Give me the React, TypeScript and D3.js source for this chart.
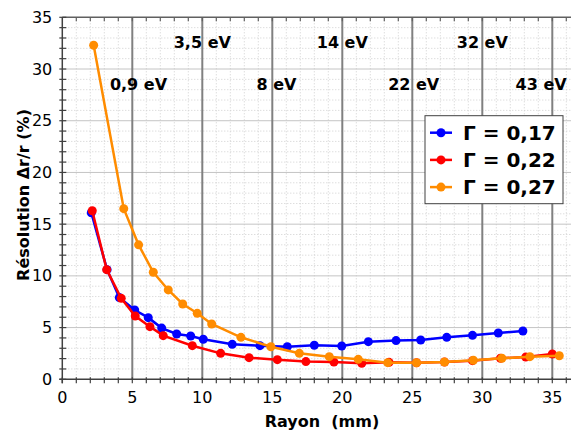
import React from "react";
import * as d3 from "d3";

const blueX = [2.07, 3.2, 4.07, 5.17, 6.14, 7.1, 8.17, 9.17, 10.07, 12.14, 14.12, 16.07, 18.0, 19.96, 21.86, 23.84, 25.6, 27.46, 29.3, 31.14, 32.9];
const blueY = [16.1, 10.6, 7.9, 6.7, 5.96, 4.95, 4.38, 4.19, 3.87, 3.38, 3.25, 3.15, 3.29, 3.22, 3.64, 3.74, 3.8, 4.06, 4.25, 4.48, 4.67];
const redX = [2.14, 3.17, 4.21, 5.21, 6.26, 7.21, 9.29, 11.31, 13.34, 15.36, 17.4, 19.4, 21.39, 23.34, 25.3, 27.3, 29.3, 31.3, 33.1, 35.0];
const redY = [16.3, 10.6, 7.83, 6.12, 5.09, 4.22, 3.25, 2.51, 2.09, 1.9, 1.71, 1.67, 1.55, 1.64, 1.6, 1.67, 1.8, 2.03, 2.15, 2.45];
const orangeX = [2.24, 4.39, 5.45, 6.5, 7.57, 8.6, 9.64, 10.67, 12.76, 14.9, 16.93, 19.07, 21.14, 23.24, 25.3, 27.3, 29.36, 31.4, 33.4, 35.5];
const orangeY = [32.3, 16.5, 13.0, 10.35, 8.64, 7.28, 6.38, 5.35, 4.06, 3.15, 2.51, 2.19, 1.93, 1.61, 1.6, 1.67, 1.84, 2.03, 2.19, 2.28];

const seriesNames = ["Γ = 0,17", "Γ = 0,22", "Γ = 0,27"];
const seriesColors = ["#0000ff", "#ff0000", "#ff8c00"];

const energyLabels = ["3,5 eV", "14 eV", "32 eV", "0,9 eV", "8 eV", "22 eV", "43 eV"];
const energyX = [10, 20, 30, 5.44, 15.3, 25.1, 34.2];
const energyRow = [0, 0, 0, 1, 1, 1, 1];

const xTicks = [0, 5, 10, 15, 20, 25, 30, 35];
const yTicks = [0, 5, 10, 15, 20, 25, 30, 35];

const W = 571;
const H = 432;
const FONT = "'DejaVu Sans', Verdana, sans-serif";

export default function App() {
  const x = d3.scaleLinear().domain([0, 36.5]).range([62.3, 62.3 + 36.5 * 14]);
  const y = d3.scaleLinear().domain([0, 35]).range([379.3, 17.3]);
  const left = x(0);
  const right = W;
  const top = y(35);
  const bottom = y(0);

  const minorX = d3.range(1, 37);
  const minorY = d3.range(1, 35);

  const series = [
    blueX.map((v, i) => [v, blueY[i]] as [number, number]),
    redX.map((v, i) => [v, redY[i]] as [number, number]),
    orangeX.map((v, i) => [v, orangeY[i]] as [number, number]),
  ];
  const line = d3
    .line<[number, number]>()
    .x((d) => x(d[0]))
    .y((d) => y(d[1]));

  const rowY = [48, 90];

  return (
    <div style={{ position: "fixed", left: 0, top: 0 }}>
      <svg width={W} height={H} style={{ display: "block", background: "#fff" }}>
        <defs>
          <clipPath id="plot">
            <rect x={left} y={top} width={right - left} height={bottom - top} />
          </clipPath>
        </defs>
        {/* minor grid */}
        {minorX.filter((v) => v % 5 !== 0).map((v) => (
          <line key={"mx" + v} x1={x(v)} x2={x(v)} y1={top} y2={bottom} stroke="#cfcfcf" strokeWidth={1} strokeDasharray="1,2" />
        ))}
        {minorY.filter((v) => v % 5 !== 0).map((v) => (
          <line key={"my" + v} x1={left} x2={right} y1={y(v)} y2={y(v)} stroke="#cfcfcf" strokeWidth={1} strokeDasharray="1,2" />
        ))}
        {/* major horizontal grid */}
        {yTicks.filter((v) => v > 0 && v < 35).map((v) => (
          <line key={"gy" + v} x1={left} x2={right} y1={y(v)} y2={y(v)} stroke="#c4c4c4" strokeWidth={1} />
        ))}
        {/* major vertical lines */}
        {xTicks.filter((v) => v > 0).map((v) => (
          <line key={"gx" + v} x1={x(v)} x2={x(v)} y1={top} y2={bottom} stroke="#808080" strokeWidth={2} />
        ))}
        {/* top axis */}
        <line x1={left} x2={right} y1={top} y2={top} stroke="#606060" strokeWidth={1.5} />
        {minorX.map((v) => (
          <line key={"tt" + v} x1={x(v)} x2={x(v)} y1={top} y2={top + 4} stroke="#606060" strokeWidth={1.2} />
        ))}
        {/* energy labels */}
        {energyLabels.map((t, i) => (
          <text key={"e" + i} x={x(energyX[i])} y={rowY[energyRow[i]]} textAnchor="middle" fontFamily={FONT} fontWeight="bold" fontSize={16} fill="#000">
            {t}
          </text>
        ))}
        {/* series */}
        <g clipPath="url(#plot)">
          {series.map((s, si) => (
            <g key={"s" + si}>
              <path d={line(s) || ""} fill="none" stroke={seriesColors[si]} strokeWidth={2.5} />
              {s.map((d, i) => (
                <circle key={i} cx={x(d[0])} cy={y(d[1])} r={4.5} fill={seriesColors[si]} />
              ))}
            </g>
          ))}
        </g>
        {/* axes */}
        <line x1={left} x2={left} y1={top} y2={bottom + 4} stroke="#404040" strokeWidth={1.5} />
        <line x1={left - 3} x2={right} y1={bottom} y2={bottom} stroke="#404040" strokeWidth={1.5} />
        {d3.range(0, 36).map((v) => (
          <line key={"yt" + v} x1={left - 3} x2={left + 4} y1={y(v)} y2={y(v)} stroke="#404040" strokeWidth={1.2} />
        ))}
        {d3.range(0, 37).map((v) => (
          <line key={"xt" + v} x1={x(v)} x2={x(v)} y1={bottom - 2} y2={bottom + 4} stroke="#404040" strokeWidth={1.2} />
        ))}
        {yTicks.map((v) => (
          <text key={"yl" + v} x={left - 10} y={y(v) + 5.5} textAnchor="end" fontFamily={FONT} fontSize={16} fill="#000">
            {v}
          </text>
        ))}
        {xTicks.map((v) => (
          <text key={"xl" + v} x={x(v)} y={403} textAnchor="middle" fontFamily={FONT} fontSize={16} fill="#000">
            {v}
          </text>
        ))}
        {/* axis titles */}
        <text x={322} y={427} textAnchor="middle" fontFamily={FONT} fontWeight="bold" fontSize={16} fill="#000" xmlSpace="preserve" style={{ whiteSpace: "pre" }}>
          {"Rayon  (mm)"}
        </text>
        <text transform="translate(29,195) rotate(-90)" textAnchor="middle" fontFamily={FONT} fontWeight="bold" fontSize={16} fill="#000">
          Résolution Δr/r (%)
        </text>
        {/* legend */}
        <rect x={425} y={115.7} width={138} height={88} fill="#fff" stroke="#404040" strokeWidth={1} />
        {seriesNames.map((n, i) => {
          const cy = 132.7 + i * 27.2;
          return (
            <g key={"lg" + i}>
              <line x1={430} x2={452} y1={cy} y2={cy} stroke={seriesColors[i]} strokeWidth={2.5} />
              <circle cx={441} cy={cy} r={4.5} fill={seriesColors[i]} />
              <text x={463} y={cy + 7} fontFamily={FONT} fontWeight="bold" fontSize={20} fill="#000" xmlSpace="preserve" style={{ whiteSpace: "pre" }}>
                {n}
              </text>
            </g>
          );
        })}
      </svg>
    </div>
  );
}
